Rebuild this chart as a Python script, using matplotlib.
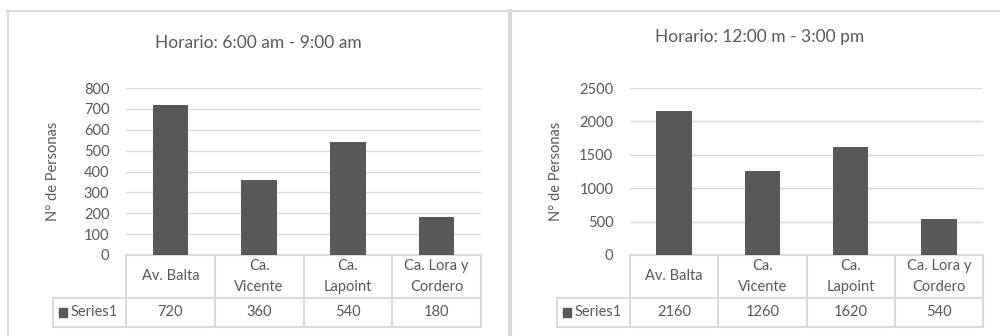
import matplotlib
matplotlib.use("Agg")
import matplotlib.pyplot as plt
from matplotlib.lines import Line2D
from matplotlib.patches import Rectangle

plt.rcParams['font.family'] = ['Lato', 'DejaVu Sans']

# datos
categorias = ["Av. Balta", "Ca.\nVicente", "Ca.\nLapoint", "Ca. Lora y\nCordero"]
serie_manana = [720, 360, 540, 180]
serie_tarde = [2160, 1260, 1620, 540]
titulos = ["Horario: 6:00 am - 9:00 am", "Horario: 12:00 m - 3:00 pm"]
ylims = [800, 2500]
ypasos = [100, 500]
serie_nombre = "Series1"

gris = "#595959"
gris_claro = "#d9d9d9"

W, H = 1000, 336
fig = plt.figure(figsize=(W / 100, H / 100), dpi=100)


def px(x, y):
    return x / W, 1 - y / H


# marco general
fig.add_artist(Line2D([7 / W, 1], [1 - 10.5 / H] * 2, color=gris_claro, lw=1.5))
fig.add_artist(Line2D([7.5 / W] * 2, [0, 1 - 10.5 / H], color=gris_claro, lw=1.5))
fig.add_artist(Line2D([510.5 / W] * 2, [0, 1 - 11 / H], color=gris_claro, lw=3))

paneles = [
    dict(x0=126, x1=481, celda=53, titulo_xy=(258, 43), ylab_x=53),
    dict(x0=630, x1=983, celda=557, titulo_xy=(760, 37), ylab_x=556),
]
y_top, y_bot = 88, 255
fila1, fila2 = 298, 327
series = [serie_manana, serie_tarde]
fs = 10.5

for i, p in enumerate(paneles):
    ax = fig.add_axes([p["x0"] / W, 1 - y_bot / H, (p["x1"] - p["x0"]) / W, (y_bot - y_top) / H])
    xs = range(len(categorias))
    ax.bar(xs, series[i], width=0.4, color=gris, zorder=3)
    ax.set_xlim(-0.5, len(categorias) - 0.5)
    ax.set_ylim(0, ylims[i])
    ax.set_yticks(range(0, ylims[i] + 1, ypasos[i]))
    ax.set_xticks([])
    ax.tick_params(axis='y', length=0, pad=12, labelsize=fs, labelcolor=gris)
    ax.grid(axis='y', color=gris_claro, lw=1, zorder=0)
    for s in ax.spines.values():
        s.set_visible(False)
    ax.set_ylabel("N° de Personas", color=gris, fontsize=fs, va='center')
    ax.yaxis.set_label_coords((p["ylab_x"] - p["x0"]) / (p["x1"] - p["x0"]), 0.5)

    fx, fy = px(*p["titulo_xy"])
    fig.text(fx, fy, titulos[i], ha='center', va='center', fontsize=12.5, color=gris)

    # tabla de datos
    tr = ax.get_xaxis_transform()
    h = y_bot - y_top
    r1 = -(fila1 - y_bot) / h
    r2 = -(fila2 - y_bot) / h
    anchocat = (p["x1"] - p["x0"]) / len(categorias)
    xc = -0.5 - (p["x0"] - p["celda"]) / anchocat
    n = len(categorias)
    lk = dict(color=gris_claro, lw=1.5, transform=tr, clip_on=False, zorder=1)
    ax.add_line(Line2D([-0.5, n - 0.5], [0, 0], **lk))
    ax.add_line(Line2D([xc, n - 0.5], [r1, r1], **lk))
    ax.add_line(Line2D([xc, n - 0.5], [r2, r2], **lk))
    ax.add_line(Line2D([xc, xc], [r1, r2], **lk))
    for k in range(n + 1):
        ax.add_line(Line2D([k - 0.5, k - 0.5], [0, r2], **lk))
    for k, cat in enumerate(categorias):
        ax.text(k, r1 / 2, cat, transform=tr, ha='center', va='center',
                fontsize=fs, color=gris, linespacing=1.55)
        ax.text(k, (r1 + r2) / 2, str(series[i][k]), transform=tr, ha='center',
                va='center', fontsize=fs, color=gris)
    # leyenda en tabla
    sq = 8 / anchocat
    ax.add_patch(Rectangle((xc + 6 / anchocat, (r1 + r2) / 2 - 0.024), sq, 0.048,
                           transform=tr, color=gris, clip_on=False))
    ax.text(xc + 18 / anchocat, (r1 + r2) / 2, serie_nombre, transform=tr,
            ha='left', va='center', fontsize=fs, color=gris)

fig.savefig("out.png", dpi=100)
